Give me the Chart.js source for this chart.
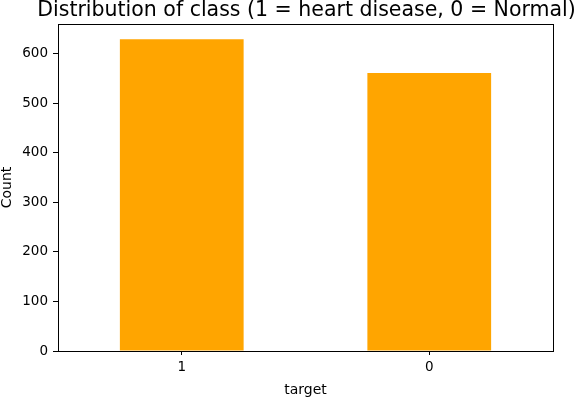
<!DOCTYPE html>
<html>
<head>
<meta charset="utf-8">
<script src="https://cdn.jsdelivr.net/npm/chart.js@4.4.0/dist/chart.umd.min.js"></script>
<style>
  html, body { margin: 0; padding: 0; background: #fff; }
</style>
</head>
<body>
<canvas id="classChart" width="576" height="398"></canvas>
<script>
const categories = ['1', '0'];
const counts = [629, 561];
const yTicks = [0, 100, 200, 300, 400, 500, 600];
const chartTitle = 'Distribution of class (1 = heart disease, 0 = Normal)';

const FONT = "'DejaVu Sans', sans-serif";

// matplotlib-like frame + title centred over the axes
const framePlugin = {
    id: 'frame',
    afterDraw(chart) {
        const { ctx, chartArea } = chart;
        ctx.save();
        ctx.strokeStyle = '#000';
        ctx.lineWidth = 1;
        ctx.strokeRect(chartArea.left + 0.5, chartArea.top + 0.5,
            chartArea.right - chartArea.left, chartArea.bottom - chartArea.top);

        ctx.fillStyle = '#000';
        ctx.font = '20.5px ' + FONT;
        ctx.textAlign = 'center';
        ctx.textBaseline = 'alphabetic';
        ctx.fillText(chartTitle, (chartArea.left + chartArea.right) / 2 + 1, 16);
        ctx.restore();
    }
};

const ctx = document.getElementById('classChart').getContext('2d');
new Chart(ctx, {
    type: 'bar',
    data: {
        labels: categories,
        datasets: [{
            data: counts,
            backgroundColor: '#FFA500',
            borderWidth: 0,
            barPercentage: 0.5,
            categoryPercentage: 1.0
        }]
    },
    options: {
        responsive: false,
        animation: false,
        layout: { padding: { left: 0, right: 23, top: 24, bottom: 0 } },
        plugins: {
            legend: { display: false },
            tooltip: { enabled: false },
            title: { display: false }
        },
        scales: {
            x: {
                offset: true,
                grid: { display: true, offset: false, drawOnChartArea: false, tickLength: 4, color: '#000', tickColor: '#000' },
                border: { color: '#000' },
                ticks: { color: '#000', font: { family: FONT, size: 13.5 }, padding: 4, maxRotation: 0 },
                title: {
                    display: true,
                    text: 'target',
                    color: '#000',
                    font: { family: FONT, size: 14 },
                    padding: { top: 0, bottom: -1 }
                },
                afterFit(scale) { scale.height = 47; }
            },
            y: {
                min: 0,
                max: 660,
                afterBuildTicks(scale) { scale.ticks = yTicks.map(v => ({ value: v })); },
                grid: { display: true, drawOnChartArea: false, tickLength: 5, color: '#000', tickColor: '#000' },
                border: { color: '#000' },
                ticks: { color: '#000', font: { family: FONT, size: 13.5 }, padding: 5 },
                title: {
                    display: true,
                    text: 'Count',
                    color: '#000',
                    font: { family: FONT, size: 14, lineHeight: 1 },
                    padding: { top: 0, bottom: 0 }
                },
                afterFit(scale) { scale.width = 58; }
            }
        }
    },
    plugins: [framePlugin]
});
</script>
</body>
</html>
